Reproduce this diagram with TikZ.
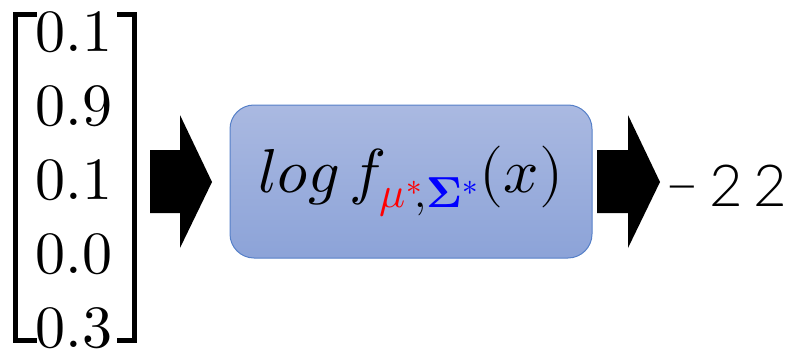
\documentclass[tikz,border=0pt]{standalone}
\usepackage{fontspec}
\usepackage{unicode-math}
\newfontfamily\reslight{Lato Light}[LetterSpace=18]
\definecolor{boxtop}{HTML}{AAB9E1}
\definecolor{boxbot}{HTML}{8CA3D8}
\definecolor{boxline}{HTML}{5680C8}
\definecolor{mured}{HTML}{FF0000}
\definecolor{sigblue}{HTML}{0000FF}
\begin{document}
\begin{tikzpicture}[x=1pt,y=-1pt,
  num/.style={font=\fontsize{60}{60}\selectfont, inner sep=0pt},
  bracket/.style={line width=5pt, line cap=butt, line join=miter},
  blockarrow/.style={fill=black},
  funcbox/.style={draw=boxline, line width=1pt, rounded corners=24pt,
    top color=boxtop, bottom color=boxbot, minimum width=362pt, minimum height=153pt,
    font=\fontsize{62}{62}\selectfont},
  result/.style={font=\reslight\fontsize{58}{58}\selectfont, inner sep=0pt}]
\useasboundingbox (0,0) rectangle (798,361);
% vector
\node[num] (v1) at (74,32) {$0.1$};
\node[num] (v2) at (74,106) {$0.9$};
\node[num] (v3) at (74,180) {$0.1$};
\node[num] (v4) at (74,254) {$0.0$};
\node[num] (v5) at (74,328) {$0.3$};
\draw[bracket] (37,14.5) -- (15.5,14.5) -- (15.5,340.5) -- (37,340.5);
\draw[bracket] (117,14.5) -- (134,14.5) -- (134,340.5) -- (117,340.5);
% arrow 1
\fill[blockarrow] (150,150) -- (180,150) -- (180,115) -- (212,182) -- (180,248) -- (180,213) -- (150,213) -- cycle;
% function box
\node[funcbox] (f) at (411,181.5) {$log\,f_{\textcolor{mured}{\mu^*}\!,\textcolor{sigblue}{\symbf{\Sigma}^*}}(x)$};
% arrow 2
\fill[blockarrow] (597,150) -- (628,150) -- (628,115) -- (660,182) -- (628,248) -- (628,213) -- (597,213) -- cycle;
% result
\node[result] (r) at (726,186) {−22};
\end{tikzpicture}
\end{document}
